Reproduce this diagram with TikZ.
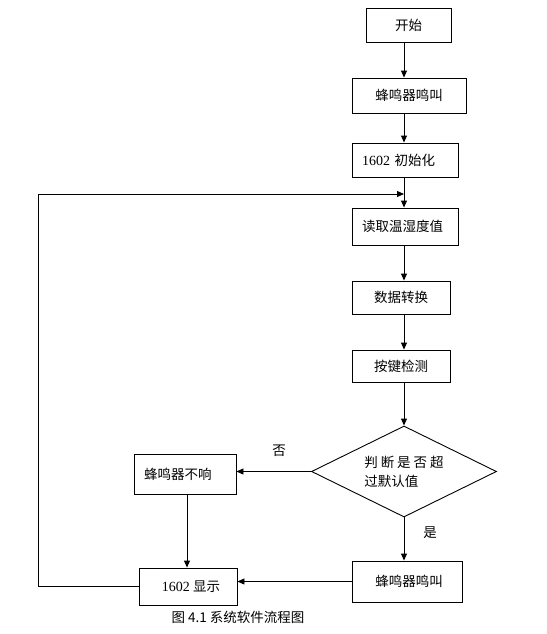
\documentclass[tikz,border=0pt]{standalone}
\usepackage{fontspec}
\setmainfont{Liberation Serif}
\newfontfamily\cjk{Noto Sans CJK SC}
\newfontfamily\lat{Liberation Serif}
\usetikzlibrary{arrows.meta,shapes.geometric}
\begin{document}
\begin{tikzpicture}[x=1pt,y=-1pt,
  line width=0.9pt,
  arr/.style={-{Triangle[length=7pt,width=6pt]}},
  box/.style={draw,rectangle,inner sep=0pt,font=\cjk\fontsize{13.5}{16}\selectfont},
  lbox/.style={box,align=left,inner xsep=10pt},
  dia/.style={draw,diamond,aspect=2,inner sep=0pt,font=\cjk\fontsize{13.5}{19}\selectfont,align=left},
  lab/.style={font=\cjk\fontsize{13.5}{16}\selectfont,inner sep=0pt}]
\useasboundingbox (0,0) rectangle (546,634);
\coordinate (ax) at (404,0);
\coordinate (lx) at (38,0);

\node[box,minimum width=85pt,minimum height=34pt] (start) at (408.5,25) {开始};
\node[box,minimum width=114pt,minimum height=35pt] (beep1) at (409,95.5) {蜂鸣器鸣叫};
\node[lbox,text width=86pt,minimum height=34pt] (init) at (405,160) {{\lat\fontsize{14}{16}\selectfont 1602} 初始化};
\node[lbox,text width=86pt,minimum height=37pt] (read) at (405,226.5) {读取温湿度值};
\node[box,minimum width=98pt,minimum height=33pt] (conv) at (401,297.5) {数据转换};
\node[box,minimum width=98pt,minimum height=32pt] (key) at (401,366) {按键检测};
\node[dia,minimum width=185pt,minimum height=91pt] (judge) at (404,471.5) {判\hspace{3pt}断\hspace{3pt}是\hspace{3pt}否\hspace{3pt}超\\过默认值};
\node[lbox,text width=82pt,minimum height=40pt] (nobeep) at (185,474) {蜂鸣器不响};
\node[box,minimum width=98pt,minimum height=37pt] (disp) at (188,586.5) {\hspace{6pt}{\lat\fontsize{14}{16}\selectfont 1602} 显示};
\node[box,minimum width=110pt,minimum height=41pt] (beep2) at (407,581.5) {\hspace{4pt}蜂鸣器鸣叫};

\node[lab] (no) at (279,451) {否};
\node[lab] (yes) at (430,533) {是};
\node[font=\cjk\fontsize{13.5}{16}\selectfont,inner sep=0pt] (cap) at (238,617) {图 4.1 系统软件流程图};

\coordinate (loopin) at (404,194);

\draw[arr] (start.south -| ax) -- (beep1.north -| ax);
\draw[arr] (beep1.south -| ax) -- (init.north -| ax);
\draw[arr] (init.south -| ax) -- (read.north -| ax);
\draw[arr] (read.south -| ax) -- (conv.north -| ax);
\draw[arr] (conv.south -| ax) -- (key.north -| ax);
\draw[arr] (key.south -| ax) -- (judge.north);
\draw[arr] (judge.west) -- (nobeep.east |- judge.west);
\draw[arr] (judge.south) -- (beep2.north -| judge.south);
\draw[arr] (beep2.west) -- (disp.east |- beep2.west);
\draw[arr] (nobeep.south -| 187,0) -- (disp.north -| 187,0);
\draw[arr] (disp.west) -- (disp.west -| lx) |- (loopin);
\end{tikzpicture}
\end{document}
